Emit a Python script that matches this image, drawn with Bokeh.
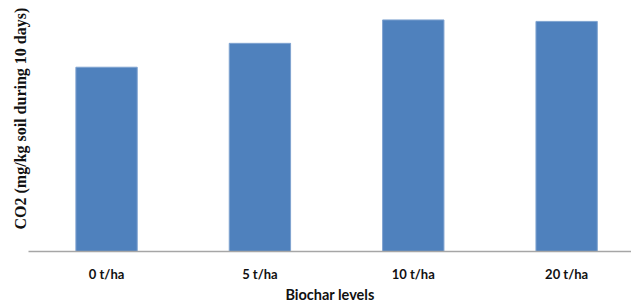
from bokeh.plotting import figure
from bokeh.models import Range1d, FixedTicker, Title, ColumnDataSource
from bokeh.embed import file_html
from bokeh.resources import INLINE

categories = ["0 t/ha", "5 t/ha", "10 t/ha", "20 t/ha"]
co2_values = [185, 209, 232.5, 231]
y_label = "CO2 (mg/kg soil during 10 days)"
x_label = "Biochar levels"

xs = list(range(len(categories)))
src = ColumnDataSource(dict(x=xs, top=co2_values))

p = figure(width=631, height=305, output_backend="svg", toolbar_location=None,
           x_range=Range1d(-0.509, 3.423), y_range=Range1d(0, 252),
           y_axis_location=None,
           min_border_left=28, min_border_right=0, min_border_top=0, min_border_bottom=53)
p.outline_line_color = None
p.xgrid.visible = False
p.ygrid.visible = False
p.background_fill_color = "white"

p.vbar(x="x", top="top", width=0.40, bottom=0, source=src,
       fill_color="#4F81BD", line_color="#7FA3D0", line_width=1)

xa = p.xaxis[0]
xa.ticker = FixedTicker(ticks=xs)
xa.major_label_overrides = {i: c for i, c in zip(xs, categories)}
xa.major_tick_line_color = None
xa.minor_tick_line_color = None
xa.major_tick_out = 0
xa.major_tick_in = 0
xa.axis_line_color = "#A6A6A6"
xa.axis_line_width = 1.5
xa.major_label_standoff = 14
xa.major_label_text_font = "Lato"
xa.major_label_text_font_style = "bold"
xa.major_label_text_font_size = "13px"
xa.major_label_text_color = "#111111"
xa.axis_label = x_label
xa.axis_label_text_font = "Lato"
xa.axis_label_text_font_style = "bold"
xa.axis_label_text_font_size = "14.5px"
xa.axis_label_text_color = "#111111"
xa.axis_label_standoff = 1

ytitle = Title(text=y_label, align="left", offset=22, vertical_align="bottom",
               standoff=0, text_font="Liberation Serif", text_font_style="bold",
               text_font_size="16px", text_color="#111111")
p.add_layout(ytitle, "left")

open("out.html", "w").write(file_html(p, INLINE))
